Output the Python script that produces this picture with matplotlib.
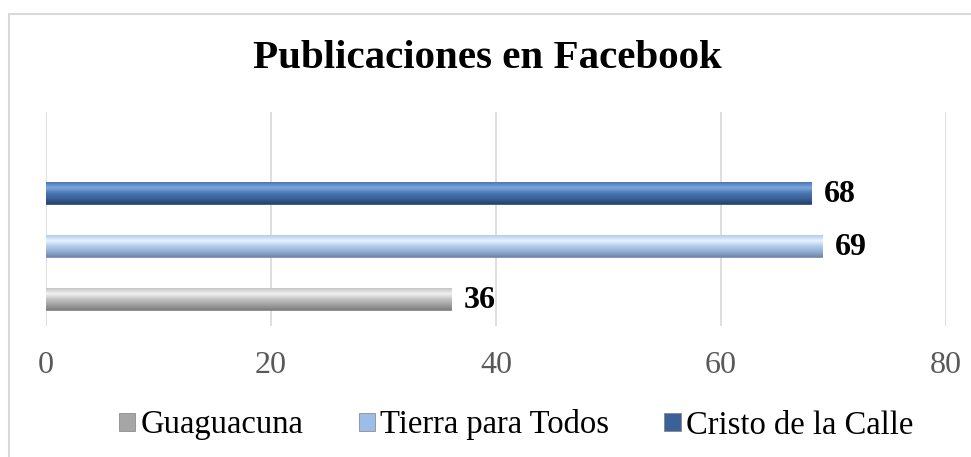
import numpy as np
import matplotlib
matplotlib.use('Agg')
import matplotlib.pyplot as plt
from matplotlib.patches import Patch
from matplotlib.lines import Line2D
from matplotlib.colors import LinearSegmentedColormap

title = 'Publicaciones en Facebook'
series = ['Guaguacuna', 'Tierra para Todos', 'Cristo de la Calle']
values = [36, 69, 68]
xticks = [0, 20, 40, 60, 80]

# (light top, mid, dark, edge) per series
shades = [
    ['#f2f2f2', '#c4c4c4', '#a3a3a3', '#7f7f7f'],
    ['#e6f4ff', '#b3cdec', '#93afd6', '#6f86a8'],
    ['#7ea8de', '#4a76b2', '#3a6199', '#26426a'],
]
legend_colors = ['#a6a6a6', '#9dbde6', '#3a6199']

plt.rcParams['font.family'] = ['Liberation Serif', 'DejaVu Serif']

fig = plt.figure(figsize=(9.71, 4.57), dpi=100)
ax = fig.add_axes([46 / 971, 1 - 326 / 457, 900 / 971, 214 / 457])

ypos = np.arange(len(series))
height = 0.41
bars = ax.barh(ypos, values, height=height, color='none', zorder=3)

for b, sh in zip(bars, shades):
    cmap = LinearSegmentedColormap.from_list('g', [sh[3], sh[2], sh[1], sh[0], sh[1]])
    x0, y0 = b.get_x(), b.get_y()
    w, h = b.get_width(), b.get_height()
    grad = np.linspace(0, 1, 64).reshape(-1, 1)
    im = ax.imshow(grad, extent=[x0, x0 + w, y0, y0 + h], origin='lower',
                   cmap=cmap, aspect='auto', zorder=3, interpolation='bilinear')
    im.set_clip_path(b)
    b.set_edgecolor(sh[3])
    b.set_linewidth(0.6)

for y, v in zip(ypos, values):
    ax.annotate(str(v), (v, y), xytext=(9, -1), textcoords='offset points',
                ha='left', va='center', fontsize=23, fontweight='bold', color='black')

ax.set_xlim(0, 80)
ax.set_ylim(-0.51, 3.53)
ax.set_xticks(xticks)
ax.set_yticks([])
ax.grid(axis='x', color='#d9d9d9', linewidth=1.2, zorder=0)
ax.tick_params(axis='x', length=0, pad=18, labelsize=23, labelcolor='#595959')
for s in ax.spines.values():
    s.set_visible(False)
ax.set_axisbelow(True)

fig.text(0.502, 1 - 58 / 457, title, ha='center', va='center',
         fontsize=29.5, fontweight='bold')

handles = [Patch(facecolor=c, edgecolor='#7f7f7f', linewidth=0.5) for c in legend_colors]
fig.legend(handles, series, loc='center', bbox_to_anchor=(516 / 971, 1 - 425 / 457),
           ncol=3, frameon=False, fontsize=23.5, handlelength=0.5, handleheight=0.5,
           handletextpad=0.15, columnspacing=1.7)

# outer chart border (cropped: only top and left visible)
fig.add_artist(Line2D([9 / 971, 9 / 971], [0, 1 - 14 / 457], transform=fig.transFigure,
                      color='#d9d9d9', linewidth=1.5))
fig.add_artist(Line2D([9 / 971, 1], [1 - 14 / 457, 1 - 14 / 457], transform=fig.transFigure,
                      color='#d9d9d9', linewidth=1.5))

fig.savefig('out.png', dpi=100, facecolor='white')
